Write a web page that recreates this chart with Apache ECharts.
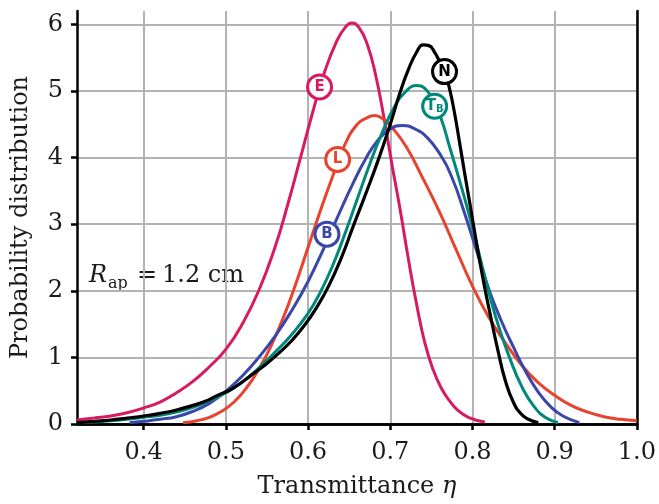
<!DOCTYPE html>
<html>
<head>
<meta charset="utf-8">
<script src="https://cdn.jsdelivr.net/npm/echarts@6/dist/echarts.min.js"></script>
<style>
  html, body { margin: 0; padding: 0; background: #fff; }
  #chart { width: 659px; height: 504px; }
</style>
</head>
<body>
<div id="chart"></div>
<script>
// Axis ranges and tick values
const X_MIN = 0.319, X_MAX = 1.0;
const Y_MIN = 0, Y_MAX = 6.2;
const xTicks = [0.4, 0.5, 0.6, 0.7, 0.8, 0.9, 1.0];
const yTicks = [0, 1, 2, 3, 4, 5, 6];

// Distribution E
const eX = [0.319,0.34,0.36,0.38,0.40,0.42,0.44,0.46,0.48,0.50,0.52,0.54,0.56,0.575,0.59,0.605,0.62,0.635,0.645,0.653,0.662,0.672,0.682,0.692,0.702,0.712,0.722,0.732,0.742,0.752,0.762,0.772,0.782,0.795,0.815];
const eY = [0.06,0.09,0.12,0.17,0.24,0.33,0.47,0.64,0.86,1.12,1.50,2.00,2.66,3.28,3.96,4.65,5.28,5.75,5.95,6.02,5.95,5.70,5.25,4.62,3.90,3.22,2.48,1.80,1.22,0.82,0.54,0.35,0.21,0.10,0.03];

// Distribution L
const lX = [0.448,0.465,0.48,0.495,0.51,0.525,0.54,0.555,0.57,0.585,0.60,0.615,0.63,0.645,0.66,0.672,0.681,0.692,0.703,0.72,0.74,0.76,0.78,0.80,0.82,0.84,0.86,0.88,0.90,0.92,0.94,0.96,0.98,1.0];
const lY = [0.02,0.05,0.10,0.19,0.33,0.54,0.82,1.17,1.60,2.10,2.65,3.20,3.72,4.20,4.50,4.60,4.63,4.57,4.44,4.15,3.68,3.18,2.62,2.07,1.60,1.22,0.88,0.62,0.43,0.28,0.18,0.11,0.07,0.05];

// Distribution B
const bX = [0.383,0.40,0.42,0.44,0.46,0.48,0.50,0.52,0.54,0.56,0.58,0.60,0.62,0.64,0.655,0.67,0.685,0.70,0.715,0.73,0.745,0.76,0.775,0.79,0.805,0.82,0.835,0.85,0.865,0.88,0.895,0.91,0.93];
const bY = [0.02,0.04,0.07,0.11,0.19,0.31,0.49,0.72,1.0,1.32,1.70,2.14,2.66,3.22,3.62,3.98,4.26,4.43,4.48,4.43,4.30,4.06,3.70,3.18,2.60,2.02,1.55,1.15,0.78,0.48,0.26,0.12,0.02];

// Distribution T_B
const tX = [0.319,0.34,0.36,0.38,0.40,0.42,0.44,0.46,0.48,0.50,0.52,0.54,0.56,0.58,0.60,0.615,0.63,0.645,0.66,0.675,0.69,0.705,0.718,0.732,0.742,0.752,0.762,0.772,0.782,0.792,0.802,0.812,0.822,0.832,0.845,0.86,0.875,0.89,0.904];
const tY = [0.02,0.03,0.05,0.07,0.10,0.13,0.18,0.25,0.35,0.47,0.63,0.84,1.08,1.34,1.66,1.98,2.38,2.86,3.38,3.90,4.37,4.76,4.98,5.08,5.04,4.86,4.58,4.17,3.75,3.32,2.85,2.36,1.88,1.46,1.0,0.56,0.26,0.09,0.02];

// Distribution N
const nX = [0.319,0.34,0.36,0.38,0.40,0.42,0.44,0.46,0.475,0.49,0.505,0.52,0.535,0.55,0.565,0.58,0.595,0.61,0.625,0.64,0.655,0.67,0.685,0.70,0.712,0.722,0.732,0.740,0.747,0.754,0.760,0.766,0.772,0.778,0.784,0.790,0.796,0.802,0.808,0.815,0.823,0.831,0.840,0.85,0.86,0.87,0.88];
const nY = [0.02,0.04,0.06,0.09,0.12,0.16,0.21,0.28,0.34,0.43,0.51,0.63,0.77,0.91,1.07,1.25,1.47,1.74,2.07,2.48,2.97,3.45,3.95,4.5,4.98,5.32,5.58,5.69,5.68,5.58,5.44,5.29,5.04,4.68,4.25,3.80,3.37,2.93,2.50,2.04,1.56,1.10,0.65,0.32,0.14,0.06,0.02];

// Curve tags: names, tag text, tag positions on each curve
const names = ['E', 'L', 'B', 'T_B', 'N'];
const tagText = ['E', 'L', 'B', '{t|T}{s|B}', 'N'];
const tagX = [0.614, 0.636, 0.623, 0.754, 0.766];
const tagY = [5.06, 3.97, 2.85, 4.77, 5.29];
const colors = ['#D81B60', '#E8432F', '#3A47AA', '#00897B', '#000000'];

const xs = [eX, lX, bX, tX, nX];
const ys = [eY, lY, bY, tY, nY];

const SERIF = '"DejaVu Serif", serif';
const SANS = '"DejaVu Sans", sans-serif';
const FS = 24;

const series = [];
names.forEach((nm, i) => {
  series.push({
    name: nm,
    type: 'line',
    data: xs[i].map((x, k) => [x, ys[i][k]]),
    showSymbol: false,
    smooth: 0.5,
    lineStyle: { color: colors[i], width: i === 4 ? 3.2 : 3 },
    z: 3 + i,
    silent: true
  });
});
names.forEach((nm, i) => {
  series.push({
    name: nm + ' tag',
    type: 'scatter',
    data: [[tagX[i], tagY[i]]],
    symbol: 'circle',
    symbolSize: 24,
    itemStyle: { color: '#fff', borderColor: colors[i], borderWidth: 3, opacity: 1 },
    label: {
      show: true,
      position: 'inside',
      formatter: tagText[i],
      color: colors[i],
      fontFamily: SANS,
      fontWeight: 'bold',
      fontSize: 15,
      rich: {
        t: { color: colors[i], fontFamily: SANS, fontWeight: 'bold', fontSize: 15 },
        s: { color: colors[i], fontFamily: SANS, fontWeight: 'bold', fontSize: 10, padding: [6, 0, 0, 0] }
      }
    },
    z: 20,
    silent: true
  });
});

const frameAxis = {
  axisLine: { show: true, lineStyle: { color: '#000', width: 2.5 } },
  axisTick: { show: false },
  axisLabel: { show: false },
  splitLine: { show: false }
};

const option = {
  animation: false,
  backgroundColor: '#fff',
  grid: { left: 77, right: 21, top: 11, bottom: 76, containLabel: false },
  xAxis: [
    {
      type: 'value', min: X_MIN, max: X_MAX, splitNumber: 7,
      axisLine: { show: true, onZero: false, lineStyle: { color: '#000', width: 2.5 } },
      axisTick: { show: true, length: 6, lineStyle: { color: '#000', width: 2.5 }, customValues: xTicks },
      axisLabel: { customValues: xTicks, formatter: v => v.toFixed(1), fontFamily: SERIF, fontSize: FS, color: '#1a1a1a', margin: 17 },
      splitLine: { show: true, lineStyle: { color: '#b3b3b3', width: 2 } },
      name: '{a|Transmittance }{b|η}',
      nameLocation: 'middle',
      nameGap: 51,
      nameTextStyle: {
        rich: {
          a: { fontFamily: SERIF, fontSize: FS, color: '#1a1a1a' },
          b: { fontFamily: SERIF, fontSize: FS, fontStyle: 'italic', color: '#1a1a1a' }
        }
      }
    },
    Object.assign({ type: 'value', min: X_MIN, max: X_MAX, position: 'top' }, frameAxis)
  ],
  yAxis: [
    {
      type: 'value', min: Y_MIN, max: Y_MAX, interval: 1,
      axisLine: { show: true, onZero: false, lineStyle: { color: '#000', width: 2.5 } },
      axisTick: { show: true, length: 6, lineStyle: { color: '#000', width: 2.5 }, customValues: yTicks },
      axisLabel: { customValues: yTicks, fontFamily: SERIF, fontSize: FS, color: '#1a1a1a', margin: 14 },
      splitLine: { show: true, lineStyle: { color: '#b3b3b3', width: 2 } },
      name: 'Probability distribution',
      nameLocation: 'middle',
      nameGap: 44,
      nameTextStyle: { fontFamily: SERIF, fontSize: FS, color: '#1a1a1a' }
    },
    Object.assign({ type: 'value', min: Y_MIN, max: Y_MAX, position: 'right' }, frameAxis)
  ],
  graphic: [
    { type: 'text', left: 89, top: 264, style: { text: 'R', font: 'italic 24px "DejaVu Serif"', fill: '#1a1a1a' } },
    { type: 'text', left: 108, top: 276, style: { text: 'ap', font: '16px "DejaVu Serif"', fill: '#1a1a1a' } },
    { type: 'text', left: 137, top: 264, style: { text: '=', font: '24px "DejaVu Serif"', fill: '#1a1a1a' } },
    { type: 'text', left: 162, top: 264, style: { text: '1.2 cm', font: '24px "DejaVu Serif"', fill: '#1a1a1a' } }
  ],
  series: series
};

const chart = echarts.init(document.getElementById('chart'), null, { renderer: 'canvas' });
chart.setOption(option);
</script>
</body>
</html>
